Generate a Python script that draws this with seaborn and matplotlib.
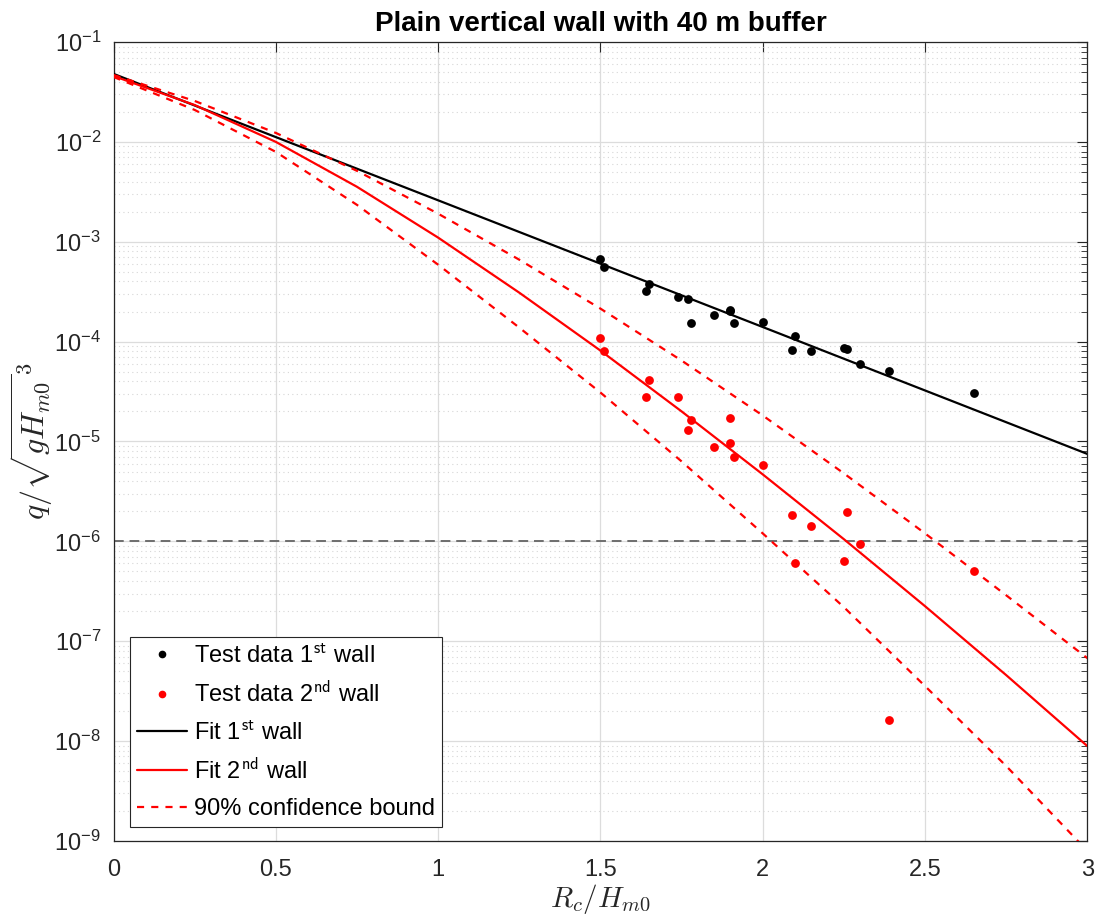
import numpy as np
import pandas as pd
import matplotlib
matplotlib.use("Agg")
import matplotlib.pyplot as plt
import seaborn as sns
from matplotlib.lines import Line2D
from matplotlib.ticker import FixedLocator, NullFormatter, LogFormatterSciNotation

# ---------------- data ----------------
x_tests = [1.50, 1.51, 1.65, 1.64, 1.74, 1.77, 1.78, 1.85, 1.90, 1.90,
           1.91, 2.00, 2.10, 2.09, 2.15, 2.25, 2.26, 2.30, 2.39, 2.65]
q_wall1 = [6.65e-4, 5.6e-4, 3.78e-4, 3.19e-4, 2.77e-4, 2.65e-4, 1.54e-4, 1.86e-4, 2.06e-4, 2.01e-4,
           1.54e-4, 1.58e-4, 1.13e-4, 8.3e-5, 8.0e-5, 8.6e-5, 8.4e-5, 5.9e-5, 5.1e-5, 3.09e-5]
q_wall2 = [1.09e-4, 8.1e-5, 4.14e-5, 2.82e-5, 2.77e-5, 1.29e-5, 1.63e-5, 8.8e-6, 9.7e-6, 1.71e-5,
           6.97e-6, 5.8e-6, 6.0e-7, 1.85e-6, 1.42e-6, 6.3e-7, 1.98e-6, 9.4e-7, 1.63e-8, 5.1e-7]

x_fit1 = [0.0, 1.0, 2.0, 3.0]
q_fit1 = [4.8e-2, 2.6e-3, 1.4e-4, 7.5e-6]

x_fit2 = [0.0, 0.25, 0.5, 0.75, 1.0, 1.25, 1.5, 1.75, 2.0, 2.25, 2.5, 2.75, 3.0]
q_fit2 = [4.57e-2, 2.34e-2, 1.00e-2, 3.55e-3, 1.10e-3, 3.09e-4, 8.13e-5, 2.0e-5,
          4.68e-6, 1.05e-6, 2.24e-7, 4.57e-8, 8.9e-9]
q_upper = [4.68e-2, 2.57e-2, 1.23e-2, 5.13e-3, 1.91e-3, 6.61e-4, 2.14e-4, 6.46e-5,
           1.82e-5, 4.79e-6, 1.20e-6, 2.88e-7, 6.76e-8]
q_lower = [4.47e-2, 2.09e-2, 7.94e-3, 2.34e-3, 5.89e-4, 1.38e-4, 3.09e-5, 6.31e-6,
           1.20e-6, 2.19e-7, 3.55e-8, 5.62e-9, 7.94e-10]

threshold = 1e-6
x_ticks = [0, 0.5, 1, 1.5, 2, 2.5, 3]
x_ticklabels = ["0", "0.5", "1", "1.5", "2", "2.5", "3"]
y_exponents = [-9, -8, -7, -6, -5, -4, -3, -2, -1]

title = "Plain vertical wall with 40 m buffer"
xlabel = r"$R_c/H_{m0}$"
ylabel = r"$q/\sqrt{gH_{m0}}^3$"
legend_labels = [r"Test data 1$^{\mathsf{st}}$ wall", r"Test data 2$^{\mathsf{nd}}$ wall",
                 r"Fit 1$^{\mathsf{st}}$ wall", r"Fit 2$^{\mathsf{nd}}$ wall",
                 "90% confidence bound"]

# ---------------- styling ----------------
sns.set_theme(style="white")
plt.rcParams["font.family"] = ["Liberation Sans", "DejaVu Sans"]
plt.rcParams["mathtext.fontset"] = "cm"
plt.rcParams["axes.unicode_minus"] = False
txt = "#262626"
dash = (0, (3.2, 3.2))

fig = plt.figure(figsize=(10.97, 9.14), dpi=100)
ax = fig.add_axes([0.1035, 0.080, 0.8877, 0.874])

df1 = pd.DataFrame({"x": x_tests, "q": q_wall1})
df2 = pd.DataFrame({"x": x_tests, "q": q_wall2})
dfit1 = pd.DataFrame({"x": x_fit1, "q": q_fit1})
dfit2 = pd.DataFrame({"x": x_fit2, "q": q_fit2, "up": q_upper, "lo": q_lower})

sns.lineplot(data=dfit1, x="x", y="q", ax=ax, color="black", lw=1.6, sort=False, zorder=3)
sns.lineplot(data=dfit2, x="x", y="q", ax=ax, color="red", lw=1.6, sort=False, zorder=3)
sns.lineplot(data=dfit2, x="x", y="up", ax=ax, color="red", lw=1.6, sort=False,
             linestyle=dash, zorder=3)
sns.lineplot(data=dfit2, x="x", y="lo", ax=ax, color="red", lw=1.6, sort=False,
             linestyle=dash, zorder=3)
sns.scatterplot(data=df1, x="x", y="q", ax=ax, color="black", s=40, linewidth=0, zorder=4)
sns.scatterplot(data=df2, x="x", y="q", ax=ax, color="red", s=40, linewidth=0, zorder=4)
ax.axhline(threshold, color="#6e6e6e", lw=1.4, linestyle=(0, (5, 3)), zorder=2)

ax.set_yscale("log")
ax.set_xlim(0, 3)
ax.set_ylim(1e-9, 1e-1)
ax.xaxis.set_major_locator(FixedLocator(x_ticks))
ax.set_xticklabels(x_ticklabels)
major_y = [10.0 ** e for e in y_exponents]
minor_y = [m * 10.0 ** e for e in y_exponents[:-1] for m in range(2, 10)]
ax.yaxis.set_major_locator(FixedLocator(major_y))
ax.yaxis.set_major_formatter(LogFormatterSciNotation())
ax.yaxis.set_minor_locator(FixedLocator(minor_y))
ax.yaxis.set_minor_formatter(NullFormatter())

ax.grid(True, which="major", axis="both", color="#dcdcdc", lw=0.9, linestyle="-", zorder=0)
ax.grid(True, which="minor", axis="y", color="#d6d6d6", lw=0.8, linestyle=(0, (1, 3)), zorder=0)
ax.set_axisbelow(True)

ax.tick_params(axis="both", which="both", direction="in", top=True, right=True,
               colors=txt, labelcolor=txt, labelsize=17)
ax.tick_params(axis="both", which="major", length=7, width=0.8)
ax.tick_params(axis="y", which="minor", length=4, width=0.6)
ax.tick_params(axis="x", which="both", pad=13)
ax.tick_params(axis="y", which="both", pad=9)
for sp in ax.spines.values():
    sp.set_color(txt)
    sp.set_linewidth(0.9)

ax.set_title(title, fontsize=20, fontweight="bold", color="black", pad=8)
ax.set_xlabel(xlabel, fontsize=21, color=txt)
ax.xaxis.set_label_coords(0.5, -0.051)
ax.set_ylabel(ylabel, fontsize=23, color=txt)
ax.yaxis.set_label_coords(-0.060, 0.5)

handles = [
    Line2D([], [], marker="o", color="black", linestyle="none", markersize=4.5),
    Line2D([], [], marker="o", color="red", linestyle="none", markersize=4.5),
    Line2D([], [], color="black", lw=1.6),
    Line2D([], [], color="red", lw=1.6),
    Line2D([], [], color="red", lw=1.6, linestyle=dash),
]
leg = ax.legend(handles, legend_labels, loc="lower left", bbox_to_anchor=(0.017, 0.0175),
                borderaxespad=0, fontsize=17, frameon=True, fancybox=False,
                edgecolor="#262626", framealpha=1, handlelength=2.1, handletextpad=0.3,
                labelspacing=0.6, borderpad=0.3)
leg.get_frame().set_linewidth(0.8)
for t in leg.get_texts():
    t.set_color("black")

fig.savefig("out.png", dpi=100, facecolor="white")
